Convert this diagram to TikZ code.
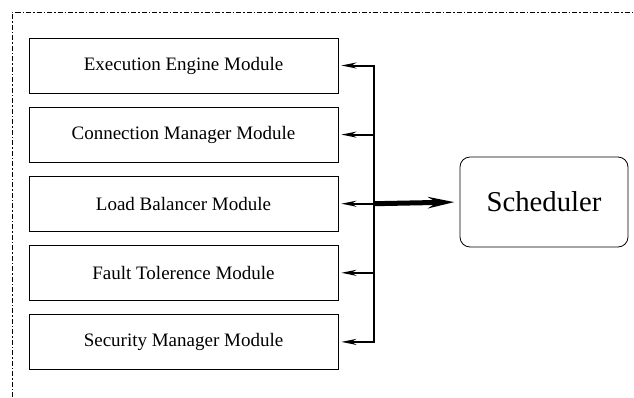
\documentclass[tikz,border=0pt]{standalone}
\usepackage{fontspec}
\setmainfont{Liberation Serif}
\usetikzlibrary{arrows.meta}
\usetikzlibrary{positioning}

\begin{document}
\begin{tikzpicture}[x=1pt,y=-1pt,>={Stealth[length=15pt,width=6pt]},node distance=13.3pt,
					line width=2pt]
					\tikzstyle{module}=[draw,line width=0.8pt,minimum width=309pt,minimum height=55pt,
					font=\fontsize{19}{21}\selectfont]
					\useasboundingbox (0,0) rectangle (634,397);
					\draw[dash pattern=on 5pt off 2pt on 1.5pt off 2pt,line width=0.7pt] (12,397) -- (12,12) -- (634,12);
					
					\node[module] (E) at (183.5,65.5) {Execution Engine Module};
					\node[module] (C) [below=of E]    {Connection Manager Module};
					\node[module] (L) [below=of C]    {Load Balancer Module};
					\node[module] (F) [below=of L]    {Fault Tolerence Module};
					\node[module] (M) [below=of F]    {Security Manager Module};
					\node[draw,line width=0.8pt,rounded corners=10pt,minimum width=168pt,minimum height=90pt,
					font=\fontsize{28.75}{31}\selectfont] (S) at (544,202) {Scheduler};
					
					\coordinate[right=36pt of E.east] (e);
					\coordinate[right=36pt of C.east] (c);
					\coordinate[right=36pt of L.east] (l);
					\coordinate[right=36pt of F.east] (f);
					\coordinate[right=36pt of M.east] (m);
					
					\draw[<->,shorten <=3pt,shorten >=3pt,line join=miter] (E.east) -- (e) -- (m) -- (M.east);
					\draw[->,shorten >=3pt] (c) -- (C.east);
					\draw[->,shorten >=3pt] (l) -- (L.east);
					\draw[->,shorten >=3pt] (f) -- (F.east);
					\draw[-{Stealth[length=26pt,width=11pt]},line width=5pt,shorten >=5pt] (l) -- (S.west);
\end{tikzpicture}
\end{document}
